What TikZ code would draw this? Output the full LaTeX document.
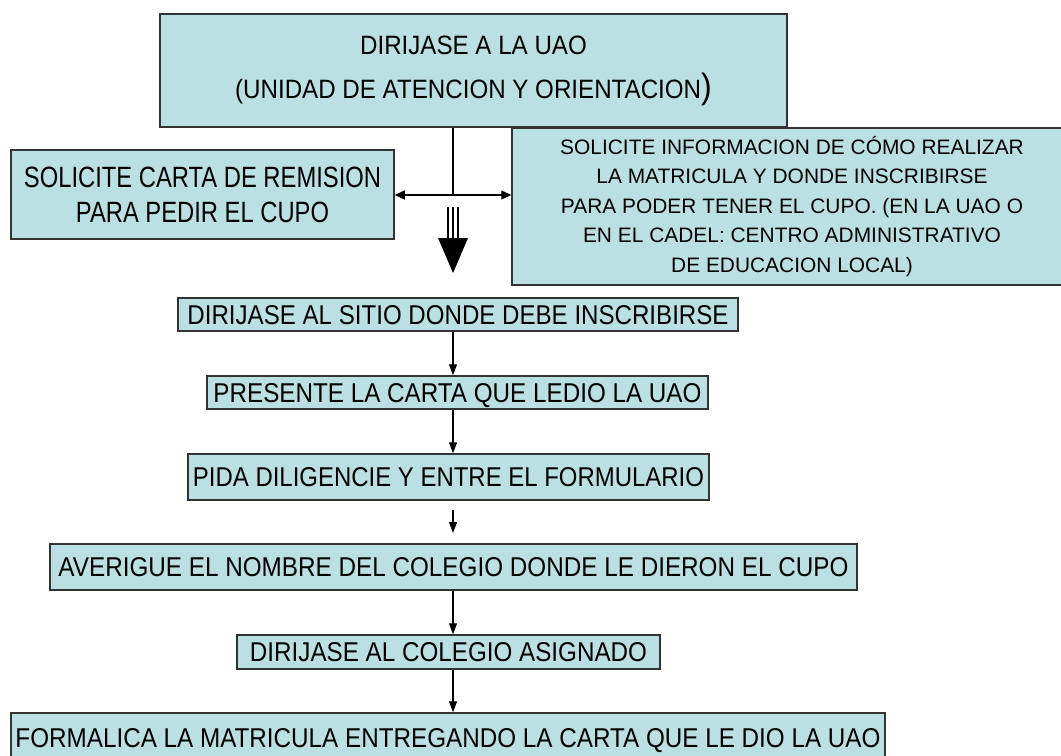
\documentclass[tikz,border=0pt]{standalone}
\usepackage{fontspec}
\setmainfont{Liberation Sans}
\usepackage{graphicx}
\usetikzlibrary{arrows.meta}

\newlength\px
\setlength\px{0.2mm}
\newcommand{\sqz}[2]{\resizebox{#1\px}{19\px}{#2}}
\newcommand{\angosto}[2]{\scalebox{#1}[1]{#2}}
\definecolor{cajaazul}{RGB}{187,224,227}

\begin{document}
\begin{tikzpicture}[x=\px, y=-\px,
	caja/.style={draw=black!80, fill=cajaazul, line width=1.5\px, inner sep=0pt, align=center},
	plana/.style={caja, text depth=0pt},
	linea/.style={line width=1.2\px},
	flecha/.style={linea, -{Triangle[length=2.2mm,width=1.6mm]}},
	dobleflecha/.style={linea, {Triangle[length=2mm,width=1.8mm]}-{Triangle[length=2mm,width=1.8mm]}}]
	\useasboundingbox (0,0) rectangle (1061,756);

	% parte de arriba
	\node[caja, minimum width=627\px, minimum height=113\px, font=\fontsize{15.1}{25}\selectfont] (uao) at (473.5,70.5)
		{\angosto{0.91}{DIRIJASE A LA UAO}\\\angosto{0.91}{(UNIDAD DE ATENCION Y ORIENTACION{\fontsize{20}{25}\selectfont)}}};
	\node[caja, minimum width=383\px, minimum height=89\px, font=\fontsize{16.7}{20}\selectfont] (carta) at (202.5,194.5)
		{\angosto{0.81}{SOLICITE CARTA DE REMISION}\\\angosto{0.81}{PARA PEDIR EL CUPO}};
	\node[caja, minimum width=560\px, minimum height=157\px, font=\fontsize{11.9}{16.8}\selectfont] (info) at (792,206.5)
		{SOLICITE INFORMACION DE CÓMO REALIZAR\\LA MATRICULA Y DONDE INSCRIBIRSE\\PARA PODER TENER EL CUPO. (EN LA UAO O\\EN EL CADEL: CENTRO ADMINISTRATIVO\\DE EDUCACION LOCAL)};

	\coordinate (cruce) at (453,195);
	\draw[linea] (uao.south -| cruce) -- (cruce);
	\draw[dobleflecha] (carta.east |- cruce) -- (info.west |- cruce);

	% flecha triple
	\coordinate (baja) at (453,207);
	\foreach \dx in {-5,0,5}
		\draw[linea] ([xshift=\dx*0.2mm]baja) -- ++(0,33);
	\fill ([xshift=-3mm]baja) ++(0,31) -- ++(30,0) -- ++(-15,35) -- cycle;

	% pasos
	\node[plana, minimum width=560\px, minimum height=33\px] (sitio) at (458,314.5)
		{\sqz{541}{DIRIJASE AL SITIO DONDE DEBE INSCRIBIRSE}};
	\node[plana, minimum width=501\px, minimum height=33\px] (presente) at (457.5,392.5)
		{\sqz{488}{PRESENTE LA CARTA QUE LEDIO LA UAO}};
	\node[plana, minimum width=521\px, minimum height=46\px] (pida) at (448.5,477)
		{\sqz{511}{PIDA DILIGENCIE Y ENTRE EL FORMULARIO}};
	\node[plana, minimum width=807\px, minimum height=46\px] (averigue) at (453.5,567)
		{\sqz{790}{AVERIGUE EL NOMBRE DEL COLEGIO DONDE LE DIERON EL CUPO}};
	\node[plana, minimum width=423\px, minimum height=34\px] (colegio) at (448.5,652)
		{\sqz{397}{DIRIJASE AL COLEGIO ASIGNADO}};
	\node[plana, minimum width=874\px, minimum height=49\px] (formalica) at (448,737.5)
		{\sqz{865}{FORMALICA LA MATRICULA ENTREGANDO LA CARTA QUE LE DIO LA UAO}};

	\coordinate (eje) at (453,0);
	\coordinate (g1) at (453,510);
	\coordinate (g2) at (453,533);
	\draw[flecha] (sitio.south -| eje) -- (presente.north -| eje);
	\draw[flecha] (presente.south -| eje) -- (pida.north -| eje);
	\draw[flecha] (g1) -- (g2);
	\draw[flecha] (averigue.south -| eje) -- (colegio.north -| eje);
	\draw[flecha] (colegio.south -| eje) -- (formalica.north -| eje);
\end{tikzpicture}
\end{document}
